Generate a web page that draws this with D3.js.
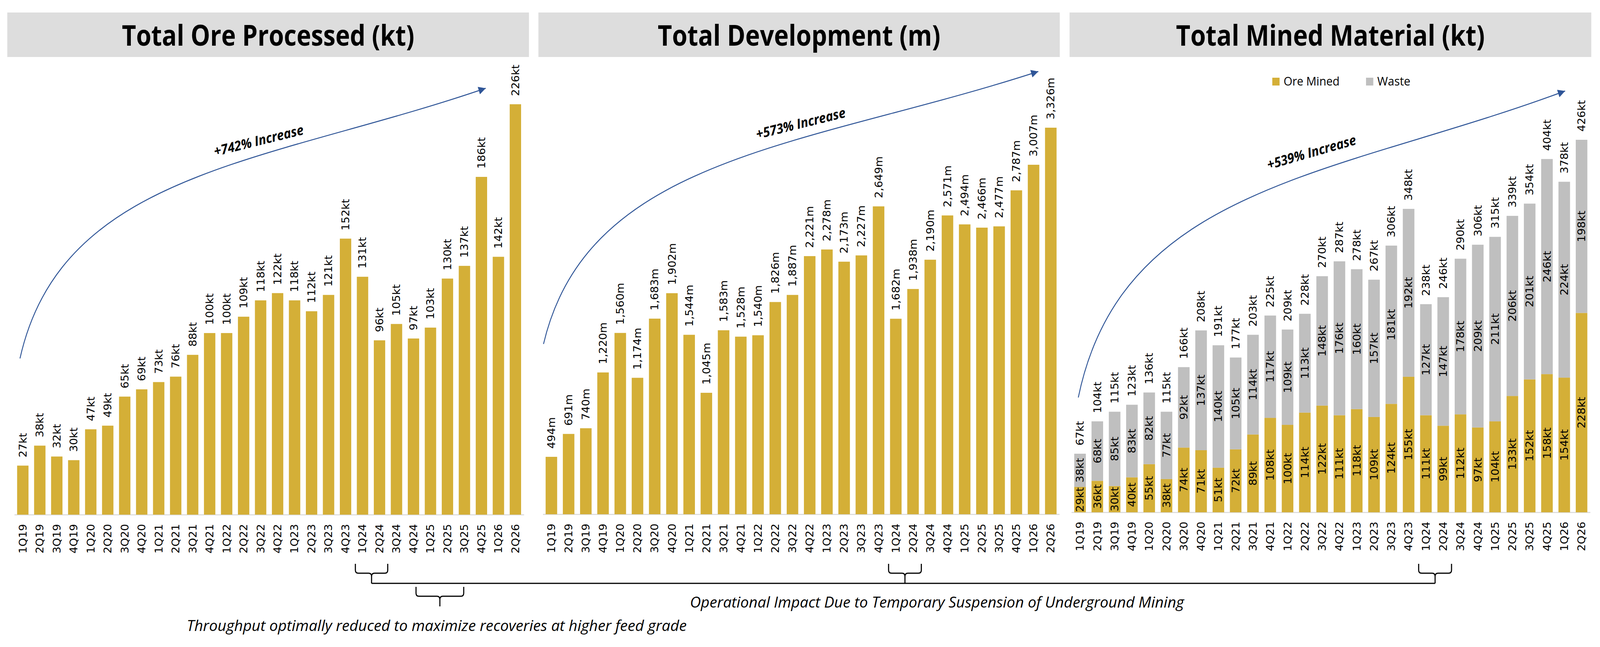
<!DOCTYPE html>
<html>
<head>
<meta charset="utf-8">
<script src="https://cdn.jsdelivr.net/npm/d3@7"></script>
<style>
  html, body { margin: 0; padding: 0; width: 100%; height: 100%; overflow: hidden; background: #fff; }
  svg { display: block; width: 100vw; height: 100vh; }
</style>
</head>
<body>
<svg id="chart" viewBox="0 0 4404 1657" preserveAspectRatio="none"></svg>
<script>
// ---- data ----
var quarters = ["1Q19","2Q19","3Q19","4Q19","1Q20","2Q20","3Q20","4Q20","1Q21","2Q21",
                "3Q21","4Q21","1Q22","2Q22","3Q22","4Q22","1Q23","2Q23","3Q23","4Q23",
                "1Q24","2Q24","3Q24","4Q24","1Q25","2Q25","3Q25","4Q25","1Q26","2Q26"];

var oreProcessed = [27,38,32,30,47,49,65,69,73,76,88,100,100,109,118,122,118,112,121,152,
                    131,96,105,97,103,130,137,186,142,226];

var development = [494,691,740,1220,1560,1174,1683,1902,1544,1045,1583,1528,1540,1826,1887,
                   2221,2278,2173,2227,2649,1682,1938,2190,2571,2494,2466,2477,2787,3007,3326];

var oreMined = [29,36,30,40,55,38,74,71,51,72,89,108,100,114,122,111,118,109,124,155,
                111,99,112,97,104,133,152,158,154,228];
var waste    = [38,68,85,83,82,77,92,137,140,105,114,117,109,113,148,176,160,157,181,192,
                127,147,178,209,211,206,201,246,224,198];
var minedTotal = [67,104,115,123,136,115,166,208,191,177,203,225,209,228,270,287,278,267,306,348,
                  238,246,290,306,315,339,354,404,378,426];

var panelTitles = ["Total Ore Processed (kt)", "Total Development (m)", "Total Mined Material (kt)"];
var increaseLabels = ["+742% Increase", "+573% Increase", "+539% Increase"];
var seriesNames = ["Ore Mined", "Waste"];
var suspensionNote = "Operational Impact Due to Temporary Suspension of Underground Mining";
var throughputNote = "Throughput optimally reduced to maximize recoveries at higher feed grade";

// ---- styles / layout ----
var gold = "#D4AF37",
    grey = "#BFBFBF",
    boxGrey = "#DDDDDD",
    arrowBlue = "#2F5597";

var labelFont = "'DejaVu Sans', Verdana, sans-serif",
    headFont = "'Open Sans', Calibri, sans-serif";

var layout = [
  {box: [20, 1456],   band: [39.4, 1442], base: 1318, top: 267, titleLen: 805,
   arrowFrom: [55, 918],   arrowTo: [1337, 226], incAt: [712, 360],  incAngle: -13},
  {box: [1482, 2917], band: [1494, 2916], base: 1317, top: 327, titleLen: 778,
   arrowFrom: [1496, 881], arrowTo: [2858, 183], incAt: [2204, 316], incAngle: -13},
  {box: [2944, 4380], band: [2949, 4377], base: 1312, top: 358, titleLen: 850,
   arrowFrom: [2968, 1018], arrowTo: [4308, 233], incAt: [3610, 390], incAngle: -15}
];

var svg = d3.select("#chart");

svg.append("defs").append("marker")
    .attr("id", "head")
    .attr("viewBox", "0 0 10 10")
    .attr("refX", 10).attr("refY", 5)
    .attr("markerWidth", 27).attr("markerHeight", 20)
    .attr("markerUnits", "userSpaceOnUse")
    .attr("orient", "auto")
  .append("path")
    .attr("d", "M0,0L10,5L0,10z")
    .attr("fill", arrowBlue);

var fmtKt = function(v) { return d3.format(",")(v) + "kt"; },
    fmtM  = function(v) { return d3.format(",")(v) + "m"; };

// build scales for each panel
var scales = layout.map(function(L, i) {
  var x = d3.scaleBand().domain(quarters).range(L.band).paddingInner(0.33).paddingOuter(0.165);
  var maxV = [d3.max(oreProcessed), d3.max(development), d3.max(minedTotal)][i];
  var y = d3.scaleLinear().domain([0, maxV]).range([L.base, L.top]);
  return {x: x, y: y};
});

// ---- title boxes ----
layout.forEach(function(L, i) {
  svg.append("rect")
      .attr("x", L.box[0]).attr("y", 32)
      .attr("width", L.box[1] - L.box[0]).attr("height", 114)
      .attr("fill", boxGrey);
  svg.append("text")
      .attr("x", (L.box[0] + L.box[1]) / 2).attr("y", 117)
      .attr("text-anchor", "middle")
      .attr("font-family", headFont).attr("font-weight", 700).attr("font-size", 73)
      .attr("textLength", L.titleLen).attr("lengthAdjust", "spacingAndGlyphs")
      .text(panelTitles[i]);
});

// ---- growth arrows ----
layout.forEach(function(L, i) {
  var p0 = L.arrowFrom, p3 = L.arrowTo,
      dx = p3[0] - p0[0], dy = p3[1] - p0[1];
  var path = d3.path();
  path.moveTo(p0[0], p0[1]);
  path.bezierCurveTo(p0[0] + 0.09 * dx, p0[1] + 0.694 * dy,
                     p0[0] + 0.532 * dx, p0[1] + 0.723 * dy,
                     p3[0], p3[1]);
  svg.append("path")
      .attr("d", path.toString())
      .attr("fill", "none")
      .attr("stroke", arrowBlue)
      .attr("stroke-width", 2.5)
      .attr("marker-end", "url(#head)");

  svg.append("text")
      .attr("transform", "translate(" + L.incAt[0] + "," + L.incAt[1] + ") rotate(" + L.incAngle + ")")
      .attr("text-anchor", "middle").attr("dy", "0.35em")
      .attr("font-family", headFont).attr("font-weight", 700).attr("font-style", "italic")
      .attr("font-size", 35)
      .attr("textLength", 252).attr("lengthAdjust", "spacingAndGlyphs")
      .text(increaseLabels[i]);
});

// ---- axes ----
scales.forEach(function(s, i) {
  var g = svg.append("g")
      .attr("transform", "translate(0," + layout[i].base + ")")
      .call(d3.axisBottom(s.x).tickSize(0).tickSizeOuter(0));
  g.attr("font-family", labelFont).attr("font-size", 28);
  g.select(".domain").attr("stroke", "#D9D9D9").attr("stroke-width", 2.5);
  g.selectAll(".tick text")
      .attr("transform", "rotate(-90)")
      .attr("x", -24).attr("y", 0).attr("dy", "0.36em")
      .attr("text-anchor", "end")
      .attr("fill", "#000");
});

// ---- simple bars (panels 1 and 2) ----
function simpleBars(values, s, fmt) {
  var g = svg.append("g");
  g.selectAll("rect").data(values).join("rect")
      .attr("x", function(d, i) { return s.x(quarters[i]); })
      .attr("y", function(d) { return s.y(d); })
      .attr("width", s.x.bandwidth())
      .attr("height", function(d) { return s.y(0) - s.y(d); })
      .attr("fill", gold);
  g.selectAll("text").data(values).join("text")
      .attr("transform", function(d, i) {
        return "translate(" + (s.x(quarters[i]) + s.x.bandwidth() / 2) + "," + (s.y(d) - 21) + ") rotate(-90)";
      })
      .attr("dy", "0.36em")
      .attr("font-family", labelFont).attr("font-size", 28)
      .text(fmt);
}
simpleBars(oreProcessed, scales[0], fmtKt);
simpleBars(development, scales[1], fmtM);

// ---- stacked bars (panel 3) ----
var s3 = scales[2];
var rows = quarters.map(function(q, i) { return {q: q, ore: oreMined[i], waste: waste[i]}; });
var stacked = d3.stack().keys(["ore", "waste"])(rows);
var colors = [gold, grey];

var g3 = svg.append("g");
stacked.forEach(function(layer, k) {
  g3.append("g").attr("fill", colors[k])
    .selectAll("rect").data(layer).join("rect")
      .attr("x", function(d) { return s3.x(d.data.q); })
      .attr("y", function(d) { return s3.y(d[1]); })
      .attr("width", s3.x.bandwidth())
      .attr("height", function(d) { return s3.y(d[0]) - s3.y(d[1]); });
  g3.append("g")
    .selectAll("text").data(layer).join("text")
      .attr("transform", function(d) {
        return "translate(" + (s3.x(d.data.q) + s3.x.bandwidth() / 2) + "," +
               ((s3.y(d[0]) + s3.y(d[1])) / 2) + ") rotate(-90)";
      })
      .attr("text-anchor", "middle").attr("dy", "0.36em")
      .attr("font-family", labelFont).attr("font-size", 28)
      .text(function(d) { return fmtKt(d.data[layer.key]); });
});
g3.append("g").selectAll("text").data(minedTotal).join("text")
    .attr("transform", function(d, i) {
      var top = stacked[1][i][1];
      return "translate(" + (s3.x(quarters[i]) + s3.x.bandwidth() / 2) + "," + (s3.y(top) - 21) + ") rotate(-90)";
    })
    .attr("dy", "0.36em")
    .attr("font-family", labelFont).attr("font-size", 28)
    .text(fmtKt);

// legend
var legend = svg.append("g").attr("transform", "translate(3502,199)");
var legendX = [0, 258], legendLen = [154, 91];
seriesNames.forEach(function(name, k) {
  legend.append("rect").attr("x", legendX[k]).attr("y", 0)
      .attr("width", 20).attr("height", 20).attr("fill", colors[k]);
  legend.append("text").attr("x", legendX[k] + 31).attr("y", 20)
      .attr("font-family", headFont).attr("font-size", 31)
      .attr("textLength", legendLen[k]).attr("lengthAdjust", "spacingAndGlyphs")
      .text(name);
});

// ---- brackets and notes ----
function bracket(xa, xb, y0, y1, y2) {
  var xm = (xa + xb) / 2, r = 8, p = d3.path();
  p.moveTo(xa, y0); p.lineTo(xa, y1 - r); p.quadraticCurveTo(xa, y1, xa + r, y1);
  p.lineTo(xm - r, y1); p.quadraticCurveTo(xm, y1, xm, y1 + r); p.lineTo(xm, y2);
  p.moveTo(xb, y0); p.lineTo(xb, y1 - r); p.quadraticCurveTo(xb, y1, xb - r, y1);
  p.lineTo(xm + r, y1); p.quadraticCurveTo(xm, y1, xm, y1 + r);
  svg.append("path").attr("d", p.toString())
      .attr("fill", "none").attr("stroke", "#000").attr("stroke-width", 3);
  return xm;
}

var lineY = 1494;
var mids = scales.map(function(s) {
  return bracket(s.x("1Q24") - 4, s.x("2Q24") + s.x.bandwidth() + 7, 1444, 1468, lineY);
});
svg.append("line")
    .attr("x1", mids[0]).attr("x2", mids[2])
    .attr("y1", lineY).attr("y2", lineY)
    .attr("stroke", "#000").attr("stroke-width", 3);

var s1 = scales[0], half = s1.x.bandwidth() / 2;
bracket(s1.x("4Q24") + half + 7, s1.x("3Q25") + half - 2, 1503, 1527, 1553);

svg.append("text")
    .attr("x", 1899).attr("y", 1556)
    .attr("font-family", headFont).attr("font-style", "italic").attr("font-size", 39)
    .attr("textLength", 1360).attr("lengthAdjust", "spacingAndGlyphs")
    .text(suspensionNote);

svg.append("text")
    .attr("x", 514).attr("y", 1616)
    .attr("font-family", headFont).attr("font-style", "italic").attr("font-size", 39)
    .attr("textLength", 1376).attr("lengthAdjust", "spacingAndGlyphs")
    .text(throughputNote);
</script>
</body>
</html>
